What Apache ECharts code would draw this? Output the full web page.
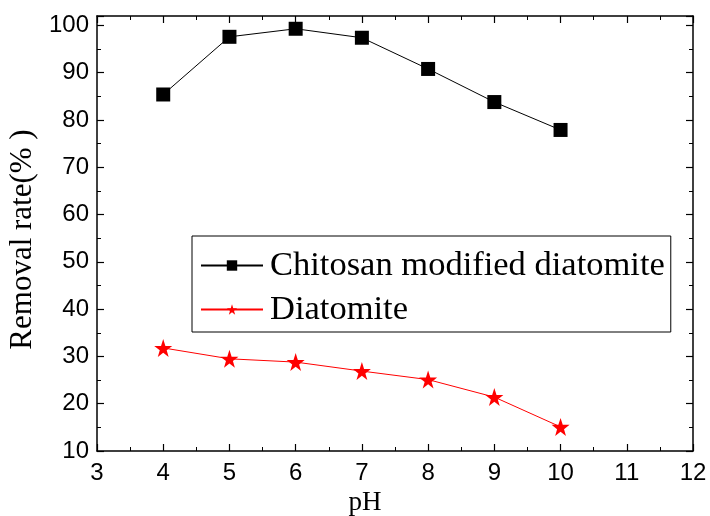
<!DOCTYPE html>
<html><head><meta charset="utf-8">
<script src="https://cdn.jsdelivr.net/npm/echarts@6/dist/echarts.min.js"></script>
<style>html,body{margin:0;padding:0;background:#fff}#c{width:710px;height:516px}</style>
</head><body><div id="c"></div>
<script>
const pH = [4, 5, 6, 7, 8, 9, 10];
const chitosan = [85.4, 97.6, 99.3, 97.4, 90.8, 83.8, 77.9];
const diatomite = [31.8, 29.5, 28.8, 26.9, 25.1, 21.4, 15.1];
const xTicks = [3, 4, 5, 6, 7, 8, 9, 10, 11, 12];
const yTicks = [10, 20, 30, 40, 50, 60, 70, 80, 90, 100];

const chart = echarts.init(document.getElementById('c'));
const axisLine = {show: true, lineStyle: {color: '#000', width: 1.5}};
const tick = {show: true, inside: true, length: 7, lineStyle: {color: '#000', width: 1.2}};
const minor = {show: true, splitNumber: 2, length: 4, lineStyle: {color: '#000', width: 1}};
chart.setOption({
  animation: false,
  grid: {left: 97, right: 17, top: 16, bottom: 65, outerBoundsMode: 'none', containLabel: false},
  legend: {
    left: 192, top: 236,
    orient: 'vertical',
    padding: [12, 6, 5, 8],
    itemGap: 9,
    borderColor: '#000', borderWidth: 1,
    itemWidth: 62, itemHeight: 13,
    textStyle: {fontFamily: 'Liberation Serif', fontSize: 34.5, color: '#000', padding: [0, 0, 0, 2]},
    data: ['Chitosan modified diatomite', 'Diatomite']
  },
  xAxis: [{
    type: 'value', min: xTicks[0], max: xTicks[xTicks.length-1], interval: 1,
    axisLine, axisTick: tick, minorTick: minor, splitLine: {show: false},
    axisLabel: {fontFamily: 'Liberation Sans', fontSize: 24, color: '#000', margin: 10},
    name: 'pH', nameLocation: 'middle', nameGap: 35,
    nameTextStyle: {fontFamily: 'Liberation Serif', fontSize: 27, color: '#000', padding: [0, 60, 0, 0]}
  }, {
    type: 'value', position: 'top', min: xTicks[0], max: xTicks[xTicks.length-1], interval: 1,
    axisLine, axisTick: tick, minorTick: minor, splitLine: {show: false}, axisLabel: {show: false}
  }],
  yAxis: [{
    type: 'value', min: 10, max: 102, interval: 10,
    axisLine, axisTick: tick, minorTick: minor, splitLine: {show: false},
    axisLabel: {fontFamily: 'Liberation Sans', fontSize: 24, color: '#000', margin: 8,
      formatter: v => yTicks.includes(v) ? String(v) : ''},
    name: 'Removal rate(% )', nameLocation: 'middle', nameGap: 56,
    nameTextStyle: {fontFamily: 'Liberation Serif', fontSize: 31, color: '#000', padding: [0, 12, 0, 0]}
  }, {
    type: 'value', position: 'right', min: 10, max: 102, interval: 10,
    axisLine, axisTick: tick, minorTick: minor, splitLine: {show: false}, axisLabel: {show: false}
  }],
  series: [{
    name: 'Chitosan modified diatomite', type: 'line',
    data: pH.map((x, i) => [x, chitosan[i]]),
    symbol: 'rect', symbolSize: 14,
    itemStyle: {color: '#000'}, lineStyle: {color: '#000', width: 1}
  }, {
    name: 'Diatomite', type: 'line',
    data: pH.map((x, i) => [x, diatomite[i]]),
    symbol: 'path://M50,0 L61.8,35.1 L98.8,35.1 L68.8,56.9 L79.4,90.5 L50,69.1 L20.6,90.5 L31.2,56.9 L1.2,35.1 L38.2,35.1 Z',
    symbolSize: 18,
    itemStyle: {color: '#ff0000'}, lineStyle: {color: '#ff0000', width: 1}
  }]
});
</script></body></html>
